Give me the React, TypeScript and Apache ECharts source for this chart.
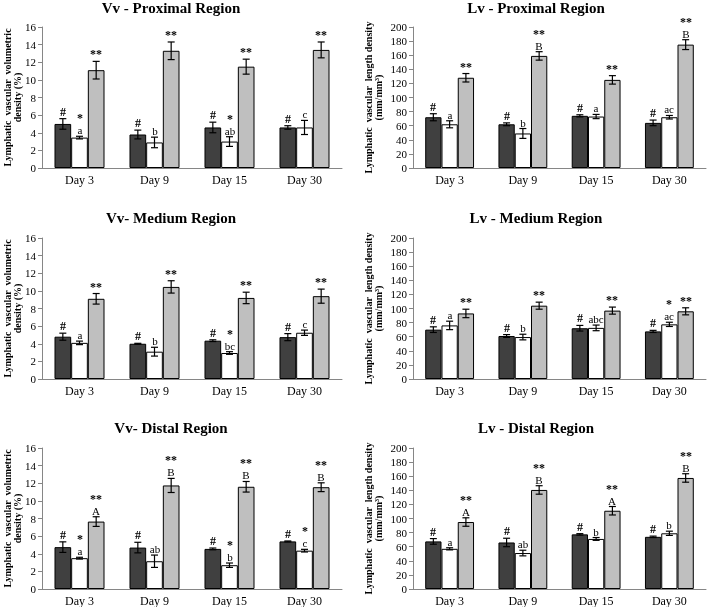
import React, { useEffect, useRef } from "react";
import * as echarts from "echarts";

const days = ["Day 3", "Day 9", "Day 15", "Day 30"];

// Vv - Proximal Region  (rows: dark, white, light)
const vvProximalMean = [[5.0, 3.8, 4.6, 4.6], [3.45, 2.9, 3.0, 4.6], [11.1, 13.3, 11.5, 13.4]];
const vvProximalErr = [[0.6, 0.5, 0.6, 0.2], [0.15, 0.6, 0.55, 0.8], [1.0, 1.0, 0.85, 0.9]];
const vvProximalLabels = [["#", "#", "#", "#"], ["*\na", "b", "*\nab", "c"], ["**", "**", "**", "**"]];

// Lv - Proximal Region
const lvProximalMean = [[72, 62, 74, 64], [62, 49, 73, 72], [128, 159, 125, 175]];
const lvProximalErr = [[5, 2, 1.5, 4], [5, 7, 3, 2.5], [6, 6, 6, 7]];
const lvProximalLabels = [["#", "#", "#", "#"], ["a", "b", "a", "ac"], ["**", "**\nB", "**", "**\nB"]];

// Vv- Medium Region
const vvMediumMean = [[4.8, 4.0, 4.35, 4.75], [4.1, 3.1, 2.95, 5.25], [9.1, 10.45, 9.2, 9.4]];
const vvMediumErr = [[0.4, 0.05, 0.1, 0.4], [0.2, 0.5, 0.15, 0.3], [0.6, 0.7, 0.65, 0.8]];
const vvMediumLabels = [["#", "#", "#", "#"], ["a", "b", "*\nbc", "c"], ["**", "**", "**", "**"]];

// Lv - Medium Region
const lvMediumMean = [[70, 61, 72, 67.5], [76, 59.5, 72.5, 77.5], [93, 104, 97, 96]];
const lvMediumErr = [[4, 2, 4, 1.5], [6, 4, 4, 3], [6, 5, 5, 5]];
const lvMediumLabels = [["#", "#", "#", "#"], ["a", "b", "abc", "*\nac"], ["**", "**", "**", "**"]];

// Vv- Distal Region
const vvDistalMean = [[4.75, 4.7, 4.55, 5.4], [3.5, 3.15, 2.7, 4.35], [7.65, 11.75, 11.6, 11.55]];
const vvDistalErr = [[0.6, 0.6, 0.1, 0.05], [0.1, 0.7, 0.25, 0.15], [0.55, 0.8, 0.6, 0.5]];
const vvDistalLabels = [["#", "#", "#", "#"], ["*\na", "ab", "*\nb", "*\nc"], ["**\nA", "**\nB", "**\nB", "**\nB"]];

// Lv - Distal Region
const lvDistalMean = [[67.5, 66, 77.5, 74], [57, 51, 71, 79], [95, 140.5, 111, 157.5]];
const lvDistalErr = [[4, 6, 1, 1], [1.5, 4, 2, 3], [6, 6, 6, 6]];
const lvDistalLabels = [["#", "#", "#", "#"], ["a", "ab", "b", "b"], ["**\nA", "**\nB", "**\nA", "**\nB"]];

const vvTicksMax = 16;
const vvTickStep = 2;
const lvTicksMax = 200;
const lvTickStep = 20;

const FONT = "'Liberation Serif', 'Times New Roman', 'DejaVu Serif', serif";
const barColors = ["#404040", "#ffffff", "#bfbfbf"];
const axisColor = "#868686";

const vvName = "Lymphatic  vascular  volumetric\ndensity (%)";
const lvName = "Lymphatic  vascular  length density\n(mm/mm\u00b3)";

const panels = [
  { title: "Vv - Proximal Region", mean: vvProximalMean, err: vvProximalErr, labels: vvProximalLabels, max: vvTicksMax, step: vvTickStep, col: 0, row: 0, name: vvName },
  { title: "Lv - Proximal Region", mean: lvProximalMean, err: lvProximalErr, labels: lvProximalLabels, max: lvTicksMax, step: lvTickStep, col: 1, row: 0, name: lvName },
  { title: "Vv- Medium Region", mean: vvMediumMean, err: vvMediumErr, labels: vvMediumLabels, max: vvTicksMax, step: vvTickStep, col: 0, row: 1, name: vvName },
  { title: "Lv - Medium Region", mean: lvMediumMean, err: lvMediumErr, labels: lvMediumLabels, max: lvTicksMax, step: lvTickStep, col: 1, row: 1, name: lvName },
  { title: "Vv- Distal Region", mean: vvDistalMean, err: vvDistalErr, labels: vvDistalLabels, max: vvTicksMax, step: vvTickStep, col: 0, row: 2, name: vvName },
  { title: "Lv - Distal Region", mean: lvDistalMean, err: lvDistalErr, labels: lvDistalLabels, max: lvTicksMax, step: lvTickStep, col: 1, row: 2, name: lvName },
];

const colLeft = [42, 413];
const colWidth = [300, 293];
const rowTop = [27, 238, 448];
const rowHeight = 141;
const titleX = [171, 536];
const titleY = [8, 218, 428];
const nameX = [12, 373.5];

function richLabel(lbl: string): string {
  return lbl
    .split("\n")
    .map((line) => (/^[#*]+$/.test(line) ? "{s|" + line + "}" : "{l|" + line + "}"))
    .join("\n");
}

export default function App() {
  const ref = useRef<HTMLDivElement>(null);
  useEffect(() => {
    if (!ref.current) return;
    const chart = echarts.init(ref.current, null, { renderer: "svg" });

    const grid = panels.map((p) => ({
      left: colLeft[p.col],
      top: rowTop[p.row],
      width: colWidth[p.col],
      height: rowHeight,
    }));

    const xAxis = panels.map((p, i) => ({
      type: "category",
      gridIndex: i,
      data: days,
      axisLine: { lineStyle: { color: axisColor, width: 1 } },
      axisTick: { show: false },
      axisLabel: { color: "#000", fontFamily: FONT, fontSize: 12, margin: 6 },
    }));

    const yAxis = panels.map((p, i) => ({
      type: "value",
      gridIndex: i,
      min: 0,
      max: p.max,
      interval: p.step,
      splitLine: { show: false },
      axisLine: { show: true, lineStyle: { color: axisColor, width: 1 } },
      axisTick: { show: true, length: 4, lineStyle: { color: axisColor } },
      axisLabel: { color: "#000", fontFamily: FONT, fontSize: 11, margin: 6 },
    }));

    const series: any[] = [];
    panels.forEach((p, i) => {
      for (let s = 0; s < 3; s++) {
        series.push({
          type: "bar",
          xAxisIndex: i,
          yAxisIndex: i,
          data: p.mean[s],
          barGap: "0%",
          barCategoryGap: "33.333%",
          itemStyle: { color: barColors[s], borderColor: "#000", borderWidth: 1 },
        });
      }
      const items: number[][] = [];
      for (let s = 0; s < 3; s++) {
        for (let c = 0; c < 4; c++) {
          items.push([c, p.mean[s][c], p.err[s][c], s]);
        }
      }
      series.push({
        type: "custom",
        xAxisIndex: i,
        yAxisIndex: i,
        data: items,
        encode: { x: 0, y: 1 },
        clip: false,
        z: 10,
        itemStyle: { color: "#000" },
        renderItem: (params: any, api: any) => {
          const c = api.value(0);
          const m = api.value(1);
          const e = api.value(2);
          const s = api.value(3);
          const catW = api.size([1, 0])[0];
          const bw = (catW * 2) / 9;
          const center = api.coord([c, m]);
          const x = center[0] + (s - 1) * bw;
          const yTop = api.coord([c, m + e])[1];
          const yBot = api.coord([c, m - e])[1];
          const cap = 3.5;
          const ls = { stroke: "#000", lineWidth: 1.2 };
          const lbl = p.labels[s][c];
          return {
            type: "group",
            children: [
              { type: "line", shape: { x1: x, y1: yTop, x2: x, y2: yBot }, style: ls },
              { type: "line", shape: { x1: x - cap, y1: yTop, x2: x + cap, y2: yTop }, style: ls },
              { type: "line", shape: { x1: x - cap, y1: yBot, x2: x + cap, y2: yBot }, style: ls },
              {
                type: "text",
                x: Math.round(x),
                y: Math.round(yTop - 1),
                style: {
                  text: richLabel(lbl),
                  align: "center",
                  verticalAlign: "bottom",
                  fontFamily: FONT,
                  fontSize: 11,
                  fill: "#000",
                  rich: {
                    s: { fontFamily: FONT, fontSize: 12, fontWeight: "bold", lineHeight: 12, fill: "#000", color: "#000" },
                    l: { fontFamily: FONT, fontSize: 11, lineHeight: 11, fill: "#000", color: "#000" },
                  },
                },
              },
            ],
          };
        },
      });
    });

    const graphic: any[] = [];
    panels.forEach((p) => {
      graphic.push({
        type: "text",
        x: titleX[p.col],
        y: titleY[p.row],
        style: {
          text: p.title,
          align: "center",
          verticalAlign: "middle",
          fontFamily: FONT,
          fontWeight: "bold",
          fontSize: 15,
          fill: "#000",
        },
      });
      graphic.push({
        type: "text",
        x: nameX[p.col],
        y: rowTop[p.row] + rowHeight / 2,
        rotation: Math.PI / 2,
        style: {
          text: p.name,
          align: "center",
          verticalAlign: "middle",
          fontFamily: FONT,
          fontWeight: "bold",
          fontSize: 10,
          lineHeight: 10,
          fill: "#000",
        },
      });
    });

    chart.setOption({
      animation: false,
      backgroundColor: "#fff",
      grid,
      xAxis,
      yAxis,
      series,
      graphic,
    });
    return () => chart.dispose();
  }, []);
  return (
    <div
      ref={ref}
      style={{ position: "fixed", left: 0, top: 0, width: 709, height: 607, filter: "grayscale(1)" }}
    />
  );
}
